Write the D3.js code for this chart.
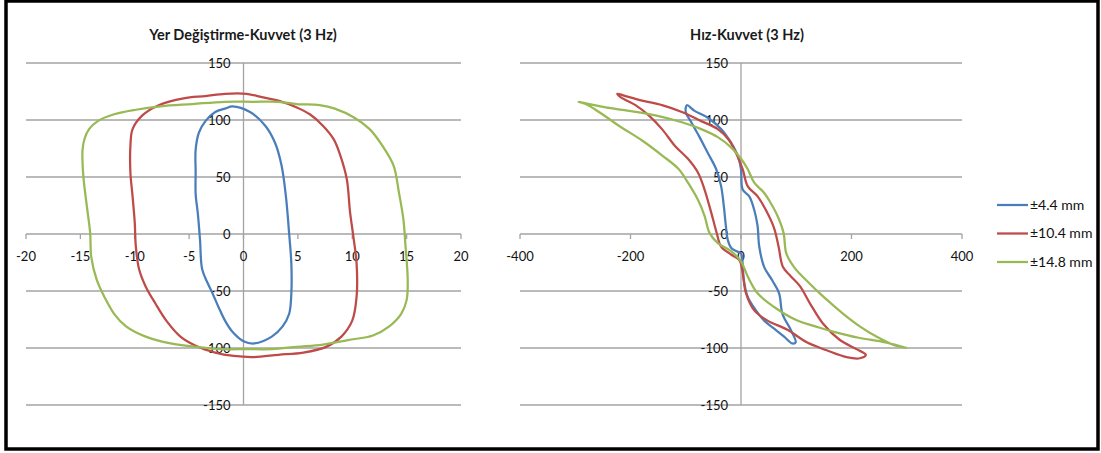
<!DOCTYPE html>
<html>
<head>
<meta charset="utf-8">
<script src="https://cdn.jsdelivr.net/npm/d3@7"></script>
<style>
  body { margin: 0; background: #fff; }
  text { font-family: Lato, "Open Sans", sans-serif; }
</style>
</head>
<body>
<div id="plot"></div>
<script>
// series names and colours
var seriesNames = ["±4.4 mm", "±10.4 mm", "±14.8 mm"];
var seriesColors = ["#4a7ebb", "#be4b48", "#98b954"];

// tick values
var dispTicks = [-20, -15, -10, -5, 0, 5, 10, 15, 20];
var velTicks = [-400, -200, 0, 200, 400];
var forceTicks = [150, 100, 50, 0, -50, -100, -150];

// displacement (mm) - force loops
var disp44 = [[-1.0,112],[0.6,107],[2.0,95],[2.9,80],[3.5,60],[3.9,33],[4.2,0],[4.4,-26],[4.4,-52],[4.2,-70],[3.6,-81],[2.6,-90],[1.0,-96],[0,-94],[-1.0,-86],[-1.7,-76],[-2.3,-64],[-2.9,-51],[-3.3,-43],[-3.8,-31],[-4.0,-5],[-4.2,18],[-4.4,35],[-4.4,54],[-4.4,74],[-4.1,89],[-3.5,99],[-2.6,107],[-1.7,110]];
var disp104 = [[0.3,123],[1.7,120],[3.2,117],[4.9,111],[6.1,105],[7.3,95],[8.3,83],[8.9,69],[9.5,48],[9.8,19],[10.1,-2],[10.4,-26],[10.4,-55],[10.0,-76],[9.0,-90],[7.6,-99],[5.5,-104],[3.2,-106],[0.9,-108],[-0.9,-107],[-2.6,-104],[-4.4,-98],[-5.8,-90],[-7.1,-76],[-8.1,-61],[-9.0,-46],[-9.6,-31],[-9.9,-11],[-10.0,10],[-10.2,33],[-10.4,54],[-10.4,77],[-10.2,92],[-9.3,104],[-7.8,113],[-5.5,119],[-3.5,121],[-1.7,123]];
var disp148 = [[-14.8,74],[-14.6,84],[-14.2,92],[-13.4,99],[-11.9,105],[-9.9,109],[-7.6,112],[-4.7,114],[-1.7,116],[0.9,116],[3.2,116],[4.9,114],[7.0,113],[8.4,110],[10.2,102],[11.6,92],[12.8,77],[13.8,60],[14.3,36],[14.7,13],[14.9,-11],[15.1,-40],[15.0,-58],[14.5,-70],[13.4,-81],[11.9,-89],[9.6,-93],[7.3,-97],[4.9,-99],[2.6,-101],[0.3,-101],[-2.0,-101],[-4.4,-99],[-6.7,-96],[-9.0,-90],[-10.8,-81],[-11.9,-70],[-12.8,-55],[-13.5,-40],[-14.0,-20],[-14.1,1],[-14.4,24],[-14.7,48],[-14.8,62]];

// velocity - force loops
var vel44 = [[-98,113],[-84,108],[-60,102],[-36,92],[-18,80],[-6,69],[0,57],[3,39],[15,33],[24,21],[30,7],[33,-11],[42,-29],[57,-41],[69,-52],[75,-70],[90,-84],[99,-95],[93,-96],[78,-90],[60,-83],[42,-76],[27,-67],[12,-55],[5,-40],[3,-26],[0,-17],[-9,-15],[-18,-12],[-24,-5],[-28,10],[-31,24],[-36,42],[-45,57],[-60,71],[-75,85],[-90,98],[-100,107]];
var vel104 = [[-224,123],[-209,121],[-179,117],[-143,113],[-107,107],[-72,99],[-42,92],[-21,82],[-9,71],[3,57],[12,42],[30,33],[45,21],[60,5],[68,-11],[76,-29],[90,-37],[107,-46],[125,-61],[149,-79],[179,-93],[209,-101],[226,-106],[215,-109],[191,-108],[155,-102],[119,-95],[84,-84],[48,-76],[24,-67],[9,-52],[3,-34],[-3,-23],[-18,-18],[-36,-11],[-44,1],[-54,19],[-66,39],[-78,54],[-96,66],[-119,77],[-143,92],[-167,104],[-191,113],[-218,120]];
var vel148 = [[-294,116],[-275,114],[-245,111],[-203,108],[-155,104],[-107,98],[-72,92],[-42,85],[-18,76],[0,66],[12,57],[24,45],[42,36],[54,27],[66,16],[77,1],[82,-17],[96,-29],[119,-41],[149,-55],[185,-70],[215,-81],[245,-90],[275,-97],[300,-100],[261,-95],[213,-91],[170,-86],[141,-82],[98,-75],[60,-64],[30,-52],[12,-37],[0,-24],[-18,-15],[-42,-8],[-57,1],[-66,16],[-78,30],[-96,45],[-113,57],[-143,69],[-179,82],[-221,95],[-257,107],[-281,114]];

var width = 1101, height = 453;

var svg = d3.select("#plot").append("svg")
    .attr("width", width)
    .attr("height", height);

// outer frame
svg.append("rect")
    .attr("x", 6).attr("y", 1)
    .attr("width", 1092).attr("height", 448)
    .attr("fill", "none")
    .attr("stroke", "#000")
    .attr("stroke-width", 3.5);

var y = d3.scaleLinear().domain([-150, 150]).range([405, 63]);

function drawChart(opts) {
  var x = d3.scaleLinear().domain(opts.domain).range(opts.range);
  var g = svg.append("g");

  // horizontal gridlines
  g.selectAll(".grid")
      .data(forceTicks)
    .enter().append("line")
      .attr("x1", x.range()[0]).attr("x2", x.range()[1])
      .attr("y1", function(d) { return y(d); })
      .attr("y2", function(d) { return y(d); })
      .attr("stroke", "#a3a3a3")
      .attr("stroke-width", 1.3);

  // vertical axis through zero
  g.append("line")
      .attr("x1", x(0)).attr("x2", x(0))
      .attr("y1", y(150)).attr("y2", y(-150))
      .attr("stroke", "#a3a3a3")
      .attr("stroke-width", 1.3);

  // x tick marks on the zero line
  g.selectAll(".xtick")
      .data(opts.ticks)
    .enter().append("line")
      .attr("x1", function(d) { return x(d); })
      .attr("x2", function(d) { return x(d); })
      .attr("y1", y(0)).attr("y2", y(0) + 5)
      .attr("stroke", "#a3a3a3")
      .attr("stroke-width", 1.3);

  // x labels
  g.selectAll(".xlab")
      .data(opts.ticks)
    .enter().append("text")
      .attr("x", function(d) { return x(d); })
      .attr("y", 256)
      .attr("dy", "0.35em")
      .attr("text-anchor", "middle")
      .attr("font-size", 13)
      .attr("fill", "#111")
      .text(function(d) { return d; });

  // y labels
  g.selectAll(".ylab")
      .data(forceTicks)
    .enter().append("text")
      .attr("x", x(0) - 13)
      .attr("y", function(d) { return y(d); })
      .attr("dy", "0.35em")
      .attr("text-anchor", "end")
      .attr("font-size", 13)
      .attr("fill", "#111")
      .text(function(d) { return d; });

  // title
  g.append("text")
      .attr("x", opts.titleX)
      .attr("y", 35)
      .attr("dy", "0.35em")
      .attr("text-anchor", "middle")
      .attr("font-size", 14.5)
      .attr("font-weight", "bold")
      .attr("fill", "#1a1a1a")
      .text(opts.title);

  // the loops
  var line = d3.line()
      .x(function(d) { return x(d[0]); })
      .y(function(d) { return y(d[1]); })
      .curve(d3.curveCatmullRomClosed);

  g.selectAll(".loop")
      .data(opts.series)
    .enter().append("path")
      .attr("d", line)
      .attr("fill", "none")
      .attr("stroke", function(d, i) { return seriesColors[i]; })
      .attr("stroke-width", 2.25)
      .attr("stroke-linejoin", "round");
}

drawChart({
  domain: [-20, 20], range: [26, 461], ticks: dispTicks,
  title: "Yer Değiştirme-Kuvvet (3 Hz)", titleX: 243,
  series: [disp44, disp104, disp148]
});

drawChart({
  domain: [-400, 400], range: [520, 962], ticks: velTicks,
  title: "Hız-Kuvvet (3 Hz)", titleX: 747,
  series: [vel44, vel104, vel148]
});

// legend
var legend = svg.selectAll(".legend")
    .data(seriesNames)
  .enter().append("g")
    .attr("transform", function(d, i) { return "translate(997," + (205 + i * 28.5) + ")"; });

legend.append("line")
    .attr("x1", 0).attr("x2", 31)
    .attr("stroke", function(d, i) { return seriesColors[i]; })
    .attr("stroke-width", 2.25);

legend.append("text")
    .attr("x", 33)
    .attr("dy", "0.35em")
    .attr("font-size", 14)
    .attr("fill", "#111")
    .text(function(d) { return d; });
</script>
</body>
</html>
